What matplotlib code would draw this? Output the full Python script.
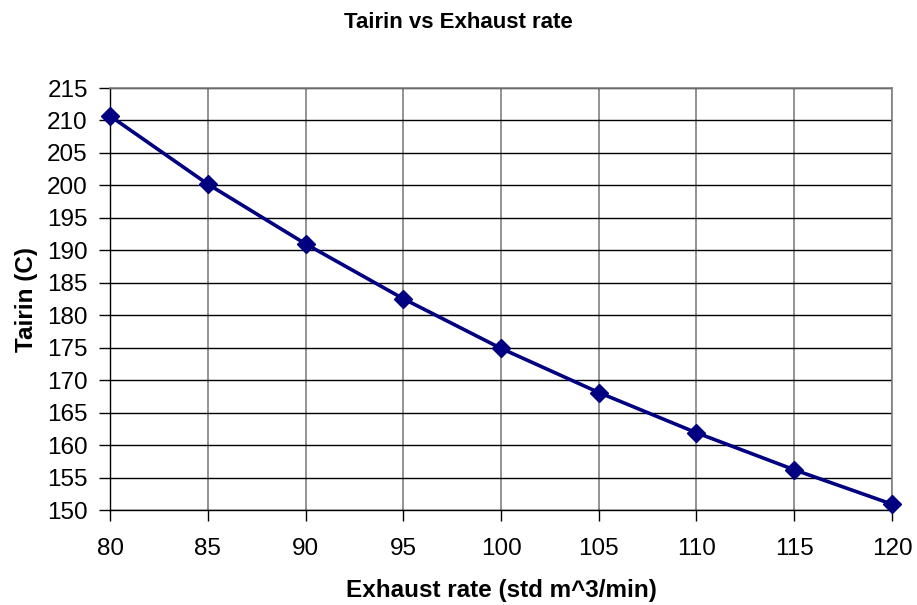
import matplotlib
matplotlib.use("Agg")
import matplotlib.pyplot as plt

exhaust_rate = [80, 85, 90, 95, 100, 105, 110, 115, 120]
tairin = [210.7, 200.2, 191.0, 182.55, 174.9, 168.1, 161.9, 156.2, 150.9]
x_ticks = [80, 85, 90, 95, 100, 105, 110, 115, 120]
y_ticks = list(range(150, 216, 5))

plt.rcParams['font.family'] = ['Liberation Sans', 'DejaVu Sans']

fig = plt.figure(figsize=(9.17, 6.05), dpi=100)
ax = fig.add_axes([0.12, 0.157, 0.8527, 0.6975])

ax.plot(exhaust_rate, tairin, color='#000080', linewidth=2.6, marker='D',
        markersize=9, markerfacecolor='#000080', markeredgecolor='#000080', zorder=3,
        clip_on=False)

ax.set_xlim(80, 120)
ax.set_ylim(150, 215)
ax.set_xticks(x_ticks)
ax.set_yticks(y_ticks)
ax.set_xticklabels([str(v) for v in x_ticks], fontsize=17.5)
ax.set_yticklabels([str(v) for v in y_ticks], fontsize=17.5)

ax.xaxis.grid(True, color='#808080', linewidth=1.2)
ax.yaxis.grid(True, color='black', linewidth=1.0)
ax.set_axisbelow(True)

for s in ['top', 'right']:
    ax.spines[s].set_color('#808080')
    ax.spines[s].set_linewidth(1.2)
for s in ['left', 'bottom']:
    ax.spines[s].set_color('black')
    ax.spines[s].set_linewidth(1.0)

ax.tick_params(axis='both', direction='out', length=8, width=1, color='black')
ax.tick_params(axis='x', pad=12)
ax.tick_params(axis='y', pad=8)

ax.set_xlabel('Exhaust rate (std m^3/min)', fontsize=17.5, fontweight='bold')
ax.set_ylabel('Tairin (C)', fontsize=17.5, fontweight='bold')
ax.xaxis.set_label_coords(0.5, -0.19)
ax.xaxis.label.set_va('center')
ax.yaxis.set_label_coords(-0.107, 0.5)
ax.yaxis.label.set_va('center')
fig.text(0.5, 0.9636, 'Tairin vs Exhaust rate', ha='center', va='center',
         fontsize=16, fontweight='bold')

fig.savefig('out.png', dpi=100)
